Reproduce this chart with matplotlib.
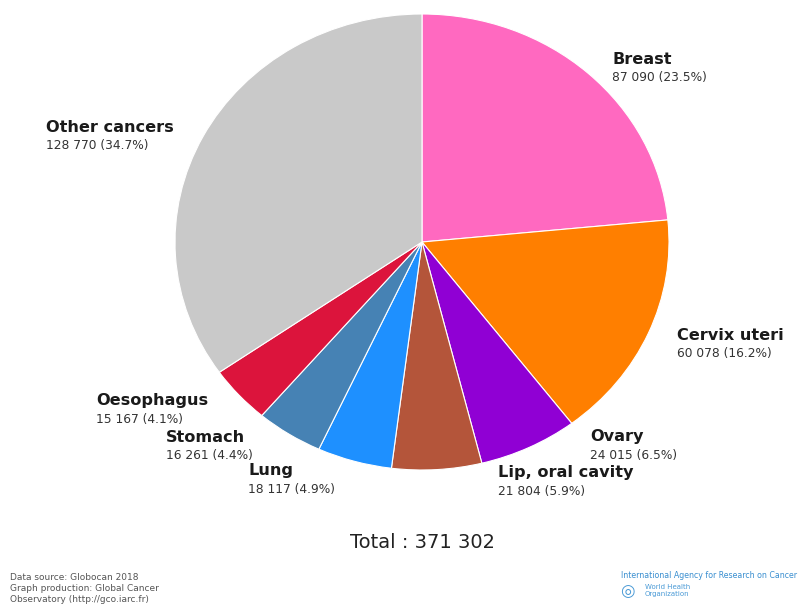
import matplotlib
matplotlib.use("Agg")
from matplotlib import pyplot as plt

# cancer deaths, females
sites = ["Breast", "Cervix uteri", "Ovary", "Lip, oral cavity", "Lung",
         "Stomach", "Oesophagus", "Other cancers"]
deaths = [87090, 60078, 24015, 21804, 18117, 16261, 15167, 128770]
colours = ["#ff69c0", "#ff7f00", "#9000d4", "#b4553a", "#1e90ff",
           "#4682b4", "#dc143c", "#c9c9c9"]
total = 371302

W, H = 808, 607
fig = plt.figure(figsize=(W / 100, H / 100), dpi=100)


def px(x, y):
    return x / W, 1 - y / H


# pie area (stretched a little sideways)
ax = fig.add_axes([175 / W, (H - 470) / H, 494 / W, 456 / H])
ax.pie(deaths, colors=colours, startangle=90, counterclock=False,
       wedgeprops=dict(edgecolor="white", linewidth=0.8))
ax.set_aspect("auto")
ax.set_xlim(-1, 1)
ax.set_ylim(-1, 1)
ax.axis("off")


def fmt(v):
    return "{:,}".format(v).replace(",", " ")


# label anchor (left x, centre y of name, centre y of value)
label_pos = {
    "Breast": (612, 60, 78),
    "Cervix uteri": (677, 336, 354),
    "Ovary": (590, 436, 456),
    "Lip, oral cavity": (498, 473, 492),
    "Lung": (248, 470, 489),
    "Stomach": (166, 438, 456),
    "Oesophagus": (96, 401, 419),
    "Other cancers": (46, 127, 146),
}

for name, v in zip(sites, deaths):
    x, y1, y2 = label_pos[name]
    fig.text(*px(x, y1), name, fontsize=11.6, fontweight="bold",
             color="#1a1a1a", va="center", ha="left")
    fig.text(*px(x, y2), "%s (%.1f%%)" % (fmt(v), 100 * v / total),
             fontsize=8.8, color="#333333", va="center", ha="left")

fig.text(*px(423, 543), "Total : " + fmt(total), fontsize=14,
         color="#222222", ha="center", va="center")

# source notes
notes = ["Data source: Globocan 2018",
         "Graph production: Global Cancer",
         "Observatory (http://gco.iarc.fr)"]
for i, t in enumerate(notes):
    fig.text(*px(10, 577 + 11.5 * i), t, fontsize=6.5, color="#555555",
             va="center", ha="left")

fig.text(*px(621, 576), "International Agency for Research on Cancer",
         fontsize=5.7, color="#3a8fd0", va="center", ha="left")
fig.text(*px(620, 591), "\u25CE", fontsize=12, color="#4a9ad6",
         va="center", ha="left")
fig.text(*px(645, 587), "World Health", fontsize=5, color="#4a9ad6",
         va="center", ha="left")
fig.text(*px(645, 594), "Organization", fontsize=5, color="#4a9ad6",
         va="center", ha="left")

fig.savefig("out.png", dpi=100, facecolor="white")
